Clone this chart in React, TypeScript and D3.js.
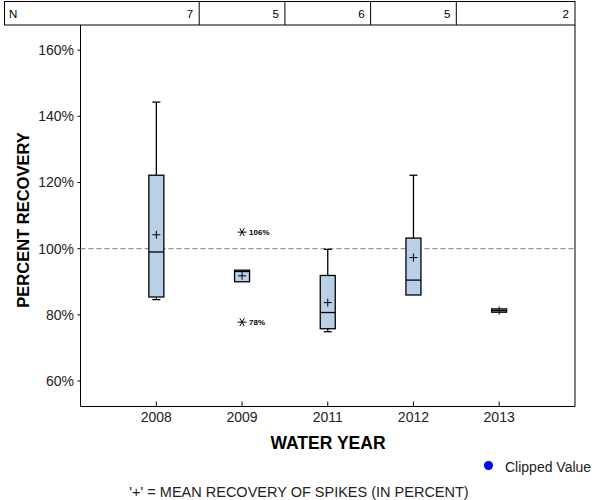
import React from "react";
import * as d3 from "d3";

const years = ["2008", "2009", "2011", "2012", "2013"];
const nCounts = [7, 5, 6, 5, 2];
const whiskerLow = [84.6, 90.0, 74.9, 86.0, 80.8];
const q1 = [85.4, 90.0, 75.8, 86.0, 80.8];
const median = [99.0, 93.1, 80.7, 90.5, 81.3];
const q3 = [122.2, 93.5, 91.9, 103.2, 81.8];
const whiskerHigh = [144.3, 93.5, 99.8, 122.2, 81.8];
const means = [104.2, 91.8, 83.7, 97.3, 81.3];
const outlierYears = ["2009", "2009"];
const outlierValues = [105.0, 77.8];
const outlierLabels = ["106%", "78%"];
const yTicks = [60, 80, 100, 120, 140, 160];
const refValue = 100;

const W = 600;
const H = 500;
const left = 80.5;
const right = 575;
const top = 25;
const bottom = 406.5;
const FONT = "'Liberation Sans', Arial, sans-serif";

export default function App() {
  const x = d3.scalePoint<string>().domain(years).range([left, right]).padding(0.885);
  const y = d3.scaleLinear().domain([52.3, 167.6]).range([bottom, top]);
  const boxHalf = 7.5;
  const capHalf = 4;
  const plusHalf = 4;
  const step = x.step();
  const dividers = years.slice(0, -1).map((yr) => (x(yr) as number) + step / 2);
  const colRights = [...dividers, right];
  const star = d3.symbol().type(d3.symbolAsterisk).size(55)() as string;

  return (
    <svg
      width={W}
      height={H}
      style={{ position: "absolute", left: 0, top: 0, background: "#fff" }}
      fontFamily={FONT}
    >
      {/* N table */}
      <rect x={4.5} y={1.5} width={right - 4.5} height={top - 1.5} fill="none" stroke="#000" strokeWidth={1} />
      {dividers.map((d, i) => (
        <line key={"dv" + i} x1={d} x2={d} y1={1.5} y2={top} stroke="#000" strokeWidth={1} />
      ))}
      <text x={9} y={18} fontSize={11.5} fill="#000">N</text>
      {nCounts.map((n, i) => (
        <text key={"n" + i} x={colRights[i] - 6} y={18} fontSize={11.5} textAnchor="end" fill="#000">
          {n}
        </text>
      ))}

      {/* frame */}
      <line x1={left} x2={left} y1={top} y2={bottom} stroke="#000" strokeWidth={1} />
      <line x1={right} x2={right} y1={top} y2={bottom} stroke="#000" strokeWidth={1} />
      <line x1={left} x2={right} y1={bottom} y2={bottom} stroke="#000" strokeWidth={1} />

      {/* y ticks */}
      {yTicks.map((t) => (
        <g key={"yt" + t}>
          <line x1={left - 3} x2={left} y1={y(t)} y2={y(t)} stroke="#000" strokeWidth={1} />
          <text x={74} y={y(t) + 5} fontSize={14} textAnchor="end" fill="#222">
            {t + "%"}
          </text>
        </g>
      ))}

      {/* x ticks */}
      {years.map((yr) => (
        <g key={"xt" + yr}>
          <line x1={x(yr)} x2={x(yr)} y1={bottom - 5} y2={bottom} stroke="#000" strokeWidth={1} />
          <text x={x(yr)} y={422} fontSize={14} textAnchor="middle" fill="#222">
            {yr}
          </text>
        </g>
      ))}

      {/* reference line */}
      <line
        x1={left}
        x2={right}
        y1={y(refValue)}
        y2={y(refValue)}
        stroke="#808080"
        strokeWidth={1}
        strokeDasharray="5,3"
      />

      {/* boxes */}
      {years.map((yr, i) => {
        const cx = x(yr) as number;
        return (
          <g key={"box" + yr} stroke="#000" strokeWidth={1.3}>
            {whiskerHigh[i] > q3[i] && (
              <>
                <line x1={cx} x2={cx} y1={y(q3[i])} y2={y(whiskerHigh[i])} />
                <line x1={cx - capHalf} x2={cx + capHalf} y1={y(whiskerHigh[i])} y2={y(whiskerHigh[i])} />
              </>
            )}
            {whiskerLow[i] < q1[i] && (
              <>
                <line x1={cx} x2={cx} y1={y(q1[i])} y2={y(whiskerLow[i])} />
                <line x1={cx - capHalf} x2={cx + capHalf} y1={y(whiskerLow[i])} y2={y(whiskerLow[i])} />
              </>
            )}
            <rect
              x={cx - boxHalf}
              y={y(q3[i])}
              width={boxHalf * 2}
              height={Math.max(y(q1[i]) - y(q3[i]), 1)}
              fill="#b9d0e8"
            />
            <line x1={cx - boxHalf} x2={cx + boxHalf} y1={y(median[i])} y2={y(median[i])} />
            <line x1={cx - plusHalf} x2={cx + plusHalf} y1={y(means[i])} y2={y(means[i])} strokeWidth={1} />
            <line x1={cx} x2={cx} y1={y(means[i]) - plusHalf} y2={y(means[i]) + plusHalf} strokeWidth={1} />
          </g>
        );
      })}

      {/* outliers */}
      {outlierValues.map((v, i) => {
        const cx = x(outlierYears[i]) as number;
        return (
          <g key={"ol" + i}>
            <path d={star} transform={`translate(${cx},${y(v)}) rotate(90)`} fill="none" stroke="#000" strokeWidth={1} />
            <text x={cx + 7} y={y(v) + 3} fontSize={8} fontWeight="bold" fill="#000">
              {outlierLabels[i]}
            </text>
          </g>
        );
      })}

      {/* axis titles */}
      <text x={328} y={449} fontSize={17.5} fontWeight="bold" textAnchor="middle" fill="#000">
        WATER YEAR
      </text>
      <text
        transform={`translate(28.5,220) rotate(-90)`}
        fontSize={16.5}
        fontWeight="bold"
        textAnchor="middle"
        fill="#000"
      >
        PERCENT RECOVERY
      </text>

      {/* legend */}
      <circle cx={488.5} cy={465.5} r={4.5} fill="#0000ff" />
      <text x={505} y={472} fontSize={14} fill="#222">Clipped Value</text>

      {/* footnote */}
      <text x={299} y={497} fontSize={14.5} textAnchor="middle" fill="#222">
        '+' = MEAN RECOVERY OF SPIKES (IN PERCENT)
      </text>
    </svg>
  );
}
